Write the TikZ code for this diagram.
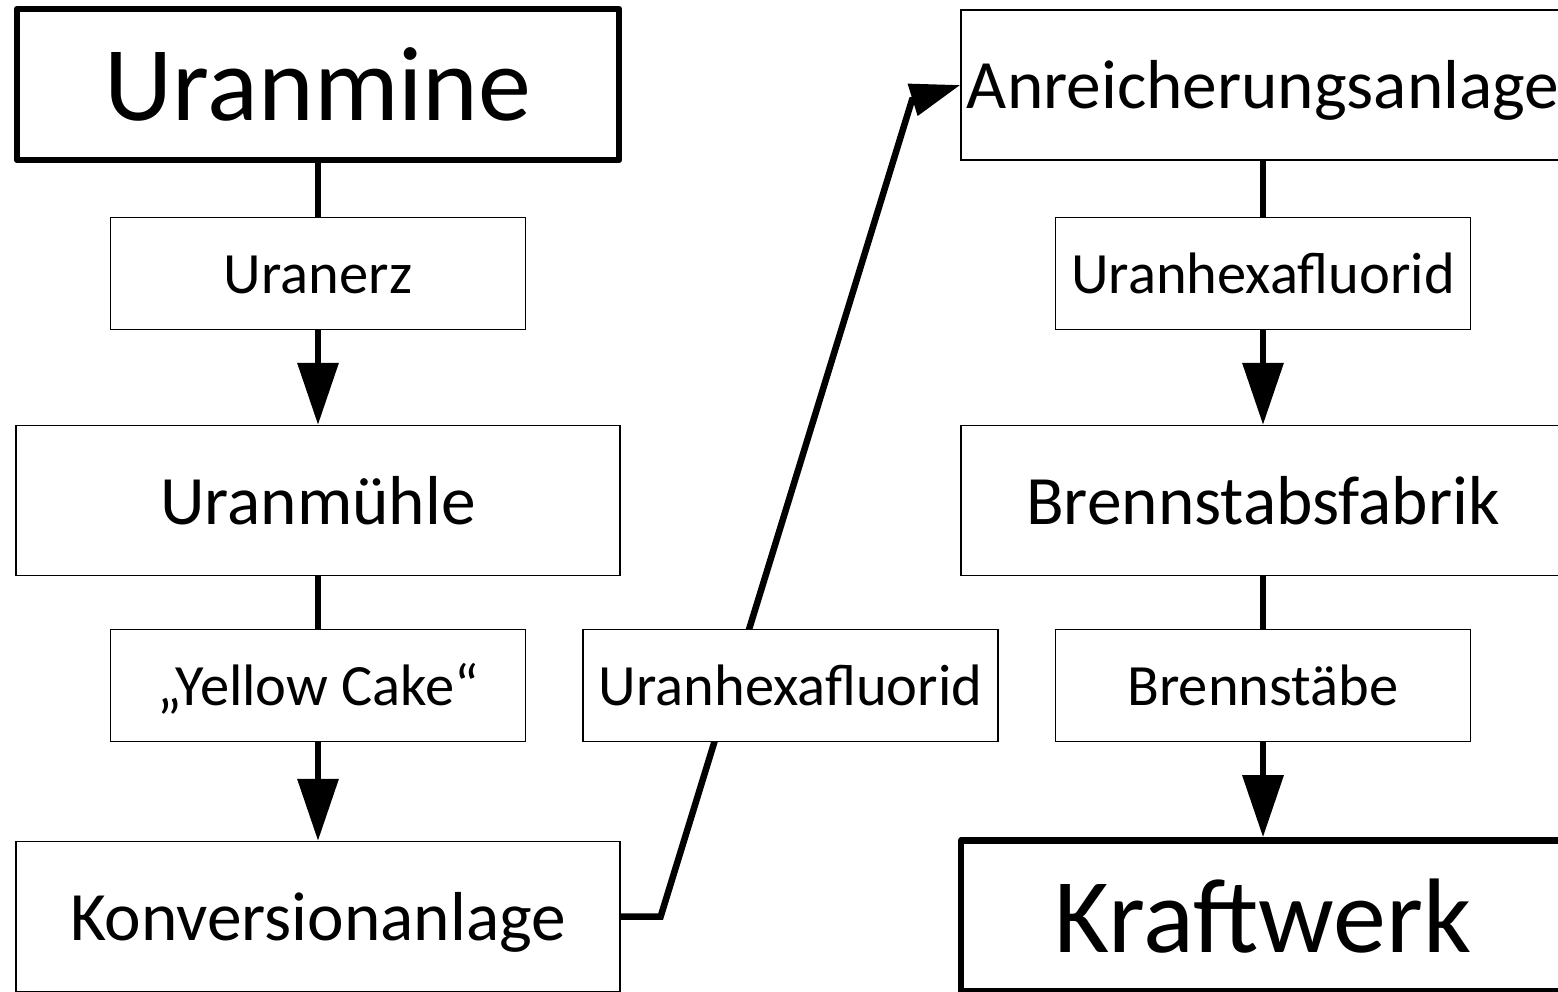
\documentclass[tikz,border=0pt]{standalone}
\usepackage{fontspec}
\setmainfont{Carlito}
\usetikzlibrary{arrows.meta}
\begin{document}
\begin{tikzpicture}[x=1pt,y=-1pt,
  box/.style={draw, fill=white, line width=1.3pt, inner sep=0pt},
  smallbox/.style={box, minimum width=415pt, minimum height=112pt, text height=55.7pt, text depth=15.7pt, font=\fontsize{58.5}{60}\selectfont},
  medbox/.style={box, minimum width=604pt, minimum height=150pt, text height=66pt, text depth=18.6pt, font=\fontsize{69.3}{72}\selectfont},
  bigbox/.style={box, line width=6.6pt, line join=round, minimum width=602pt, minimum height=151pt, text height=100.9pt, text depth=28.4pt, font=\fontsize{106}{110}\selectfont},
  conn/.style={line width=6.5pt},
  arr/.style={conn, -{Triangle[length=62pt,width=40pt]}},
  diagarr/.style={conn, -{Triangle[length=50pt,width=32pt]}}]
\useasboundingbox (0,0) rectangle (1558,991);
\clip (0,0) rectangle (1558,991);
% left column
\node[bigbox] (mine) at (318,84.5) {Uranmine};
\node[smallbox] (erz) at (318,273.5) {Uranerz};
\node[medbox] (muehle) at (318,500.5) {Uranmühle};
\node[smallbox] (yc) at (318,685.5) {„Yellow Cake“};
\node[medbox] (konv) at (318,916.5) {Konversionanlage};
% right column
\node[medbox] (anr) at (1263,85) {Anreicherungsanlage};
\node[smallbox] (uhf) at (1263,273.5) {Uranhexafluorid};
\node[medbox] (bsf) at (1263,500.5) {Brennstabsfabrik};
\node[smallbox] (bst) at (1263,685.5) {Brennstäbe};
\node[bigbox, minimum width=604pt] (kw) at (1263,916) {Kraftwerk};
% connectors
\draw[conn] (mine.south) -- (erz.north);
\draw[arr] (erz.south) -- (muehle.north);
\draw[conn] (muehle.south) -- (yc.north);
\draw[arr] (yc.south) -- (konv.north);
\coordinate (bend) at (912,100);
\draw[diagarr] (konv.east) -- ++(40,0) -- (bend) -- (anr.west);
\draw[conn] (anr.south) -- (uhf.north);
\draw[arr] (uhf.south) -- (bsf.north);
\draw[conn] (bsf.south) -- (bst.north);
\draw[arr] (bst.south) -- (kw.north);
% middle label box drawn over the diagonal connector
\node[smallbox] (uhf2) at (790.5,685.5) {Uranhexafluorid};
\end{tikzpicture}
\end{document}
